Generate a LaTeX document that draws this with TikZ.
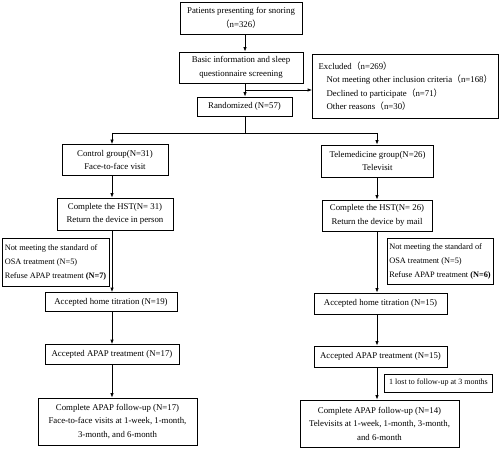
\documentclass[tikz,border=0pt]{standalone}
\usepackage{fontspec}
\setmainfont{Liberation Serif}
\newfontfamily\cjk{Noto Sans CJK SC}
\usetikzlibrary{arrows.meta}
\newcommand{\lp}{{\cjk （}}
\newcommand{\rp}{{\cjk ）}}
\begin{document}
\begin{tikzpicture}[x=1pt,y=-1pt,
  box/.style={draw,line width=0.8pt,inner sep=0pt,align=center,font=\fontsize{8.8}{13.5}\selectfont},
  sidebox/.style={box,align=left,font=\fontsize{8.3}{14}\selectfont},
  arr/.style={line width=0.8pt,-{Latex[length=4.5pt,width=3.5pt]}},
  ln/.style={line width=0.8pt}]
\useasboundingbox (0,0) rectangle (500,449);
\node[box,minimum width=122,minimum height=32] (b1) at (241,18) {Patients presenting for snoring\\\lp n=326\rp};
\node[box,minimum width=124,minimum height=31] (b2) at (241,67.5) {Basic information and sleep\\questionnaire screening};
\node[box,minimum width=95,minimum height=19] (b3) at (244.5,106.5) {Randomized (N=57)};
\node[box,minimum width=186,minimum height=64,align=left] (ex) at (405.5,86) {Excluded\lp n=269\rp\\\hspace*{8pt}Not meeting other inclusion criteria\lp n=168\rp\\\hspace*{8pt}Declined to participate\lp n=71\rp\\\hspace*{8pt}Other reasons\lp n=30\rp};
\coordinate (br) at (245,90);
\coordinate (sp) at (245,133);
\coordinate (spl) at (112,133);
\coordinate (spr) at (377,133);
\draw[arr] (b1.south -| br) -- (b2.north -| br);
\draw[ln] (b2.south -| br) -- (br);
\draw[arr] (br) -- (b3.north -| br);
\draw[arr] (br) -- (ex.west |- br);
\draw[ln] (b3.south -| sp) -- (sp);
\draw[ln] (spl) -- (spr);
% left column
\node[box,minimum width=106,minimum height=31] (cg) at (115,160) {Control group(N=31)\\Face-to-face visit};
\node[box,minimum width=116,minimum height=32] (hl) at (115,214) {Complete the HST(N= 31)\\Return the device in person};
\node[sidebox,minimum width=107,minimum height=48] (exl) at (55.5,262) {Not meeting the standard of\\OSA treatment (N=5)\\Refuse APAP treatment \textbf{(N=7)}};
\node[box,minimum width=132,minimum height=19] (tl) at (111,302) {Accepted home titration (N=19)};
\node[box,minimum width=134,minimum height=20] (al) at (112,354.5) {Accepted APAP treatment (N=17)};
\node[box,minimum width=159,minimum height=47] (fl) at (117.5,421.5) {Complete APAP follow-up (N=17)\\Face-to-face visits at 1-week, 1-month,\\3-month, and 6-month};
\draw[arr] (spl) -- (cg.north -| spl);
\draw[arr] (cg.south -| spl) -- (hl.north -| spl);
\draw[arr] (hl.south -| spl) -- (tl.north -| spl);
\draw[arr] (tl.south -| spl) -- (al.north -| spl);
\draw[arr] (al.south -| spl) -- (fl.north -| spl);
% right column
\node[box,minimum width=112,minimum height=32] (tg) at (377.5,161) {Telemedicine group(N=26)\\Televisit};
\node[box,minimum width=110,minimum height=31] (hr) at (377,215.5) {Complete the HST(N= 26)\\Return the device by mail};
\node[sidebox,minimum width=106,minimum height=46] (exr) at (440,261) {Not meeting the standard of\\OSA treatment (N=5)\\Refuse APAP treatment \textbf{(N=6)}};
\node[box,minimum width=133,minimum height=21] (tr) at (380.5,303.5) {Accepted home titration (N=15)};
\node[box,minimum width=133,minimum height=21] (ar) at (380.5,356.5) {Accepted APAP treatment (N=15)};
\node[box,minimum width=108,minimum height=18,font=\fontsize{8}{10}\selectfont] (lost) at (438.5,383) {1 lost to follow-up at 3 months};
\node[box,minimum width=159,minimum height=47] (fr) at (379.5,423.5) {Complete APAP follow-up (N=14)\\Televisits at 1-week, 1-month, 3-month,\\and 6-month};
\draw[arr] (spr) -- (tg.north -| spr);
\draw[arr] (tg.south -| spr) -- (hr.north -| spr);
\draw[arr] (hr.south -| spr) -- (tr.north -| spr);
\draw[arr] (tr.south -| spr) -- (ar.north -| spr);
\draw[arr] (ar.south -| spr) -- (fr.north -| spr);
\end{tikzpicture}
\end{document}
